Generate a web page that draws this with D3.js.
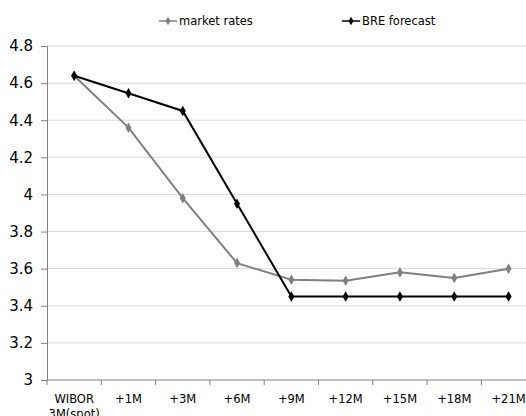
<!DOCTYPE html>
<html>
<head>
<meta charset="utf-8">
<script src="https://cdn.jsdelivr.net/npm/d3@7"></script>
<style>
  html, body { margin: 0; padding: 0; background: #fff; }
  svg { display: block; }
  text { font-family: "DejaVu Sans", Verdana, sans-serif; }
</style>
</head>
<body>
<div id="chart"></div>
<script>
// Horizon labels (first one is split over two lines)
const categories = ["WIBOR\n3M(spot)", "+1M", "+3M", "+6M", "+9M", "+12M", "+15M", "+18M", "+21M"];
// 3M WIBOR implied by market rates
const marketRates = [4.64, 4.36, 3.98, 3.63, 3.54, 3.535, 3.58, 3.55, 3.60];
// BRE bank forecast
const breForecast = [4.64, 4.545, 4.45, 3.95, 3.45, 3.45, 3.45, 3.45, 3.45];
const yTicks = [3, 3.2, 3.4, 3.6, 3.8, 4, 4.2, 4.4, 4.6, 4.8];

const W = 526, H = 416;
const margin = { left: 47, top: 46, bottom: 36 };
const bandW = 54.3;

const svg = d3.select("#chart").append("svg").attr("width", W).attr("height", H);

const x = d3.scaleBand()
  .domain(d3.range(categories.length))
  .range([margin.left, margin.left + bandW * categories.length])
  .paddingInner(0).paddingOuter(0);

const y = d3.scaleLinear().domain([3, 4.8]).range([H - margin.bottom, margin.top]);

// horizontal gridlines
svg.append("g").selectAll("line")
  .data(yTicks.filter(d => d > 3))
  .join("line")
  .attr("x1", margin.left).attr("x2", W)
  .attr("y1", d => y(d)).attr("y2", d => y(d))
  .attr("stroke", "#d9d9d9").attr("stroke-width", 1);

// y axis
const yAxis = svg.append("g")
  .attr("transform", `translate(${margin.left},0)`)
  .call(d3.axisLeft(y).tickValues(yTicks).tickFormat(d3.format("")).tickSize(6).tickPadding(8));
yAxis.select(".domain").attr("stroke", "#808080");
yAxis.selectAll(".tick line").attr("stroke", "#808080");
yAxis.selectAll("text").attr("font-size", 15).attr("fill", "#000")
  .style("font-family", "'DejaVu Sans', Verdana, sans-serif");

// x axis
const xAxisG = svg.append("g").attr("transform", `translate(0,${y(3)})`);
xAxisG.append("line")
  .attr("x1", margin.left).attr("x2", W)
  .attr("stroke", "#808080");
xAxisG.selectAll("line.tk")
  .data(d3.range(categories.length + 1))
  .join("line").attr("class", "tk")
  .attr("x1", i => margin.left + i * bandW).attr("x2", i => margin.left + i * bandW)
  .attr("y1", 0).attr("y2", 5)
  .attr("stroke", "#808080");
const xl = xAxisG.selectAll("text.cat")
  .data(categories)
  .join("text").attr("class", "cat")
  .attr("text-anchor", "middle")
  .attr("font-size", 11.5)
  .attr("fill", "#000")
  .attr("transform", (d, i) => `translate(${x(i) + x.bandwidth() / 2},23)`);
xl.selectAll("tspan")
  .data(d => d.split("\n"))
  .join("tspan")
  .attr("x", 0)
  .attr("dy", (d, i) => i === 0 ? 0 : 15)
  .text(d => d);

// series
const series = [
  { name: "market rates", values: marketRates, color: "#808080", width: 2 },
  { name: "BRE forecast", values: breForecast, color: "#000000", width: 2 }
];
const cx = i => x(i) + x.bandwidth() / 2;
const line = d3.line().x((d, i) => cx(i)).y(d => y(d));
const diamond = d3.symbol().type(d3.symbolDiamond).size(32);

series.forEach(s => {
  svg.append("path")
    .datum(s.values)
    .attr("d", line)
    .attr("fill", "none")
    .attr("stroke", s.color)
    .attr("stroke-width", s.width);
  svg.append("g").selectAll("path")
    .data(s.values)
    .join("path")
    .attr("d", diamond)
    .attr("transform", (d, i) => `translate(${cx(i)},${y(d)})`)
    .attr("fill", s.color);
});

// legend
const legendPos = [159, 342];
series.forEach((s, k) => {
  const g = svg.append("g").attr("transform", `translate(${legendPos[k]},21)`);
  g.append("line").attr("x1", 0).attr("x2", 18).attr("y1", 0).attr("y2", 0)
    .attr("stroke", s.color).attr("stroke-width", 1.5);
  g.append("path").attr("d", d3.symbol().type(d3.symbolDiamond).size(22)).attr("transform", "translate(9,0)").attr("fill", s.color);
  g.append("text").attr("x", 20).attr("y", 4.2).attr("font-size", 11.5).attr("fill", "#000").text(s.name);
});
</script>
</body>
</html>
